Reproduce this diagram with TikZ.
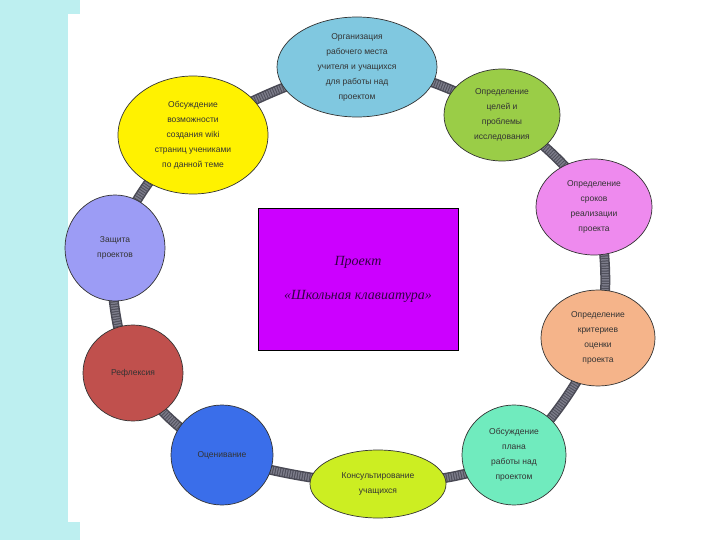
\documentclass[tikz,border=0pt]{standalone}
\usepackage{fontspec}
\setmainfont{Liberation Sans}
\newfontfamily\scriptfam{Liberation Serif}
\usetikzlibrary{shapes.geometric,backgrounds}
\definecolor{bgcyan}{HTML}{BDEFF0}
\definecolor{ringc}{HTML}{7A7A88}
\definecolor{ringe}{HTML}{4A4A55}
\definecolor{cTop}{HTML}{80C8E0}
\definecolor{cYel}{HTML}{FFF200}
\definecolor{cGrn}{HTML}{9ACD47}
\definecolor{cPnk}{HTML}{EE8AEE}
\definecolor{cOrg}{HTML}{F5B48A}
\definecolor{cMnt}{HTML}{70EBBE}
\definecolor{cCon}{HTML}{CCEE22}
\definecolor{cBlu}{HTML}{3A6EEA}
\definecolor{cRed}{HTML}{C0504D}
\definecolor{cLav}{HTML}{9C9CF5}
\definecolor{cMag}{HTML}{CC00FF}
\definecolor{cTxt}{HTML}{330044}
\tikzset{
  stage/.style={ellipse, draw=black!80, line width=0.7pt, align=center,
    font=\fontsize{8.5}{15}\selectfont, text=black!80, inner sep=0pt},
  ringouter/.style={line width=10pt, ringe},
  ringinner/.style={line width=7pt, ringc, dash pattern=on 1.5pt off 1pt},
}
\begin{document}
\begin{tikzpicture}[x=1pt,y=-1pt]
\useasboundingbox (0,0) rectangle (720,540);

\node[stage, fill=cTop, minimum width=160, minimum height=100] (n1) at (357,67)
  {Организация\\рабочего места\\учителя и учащихся\\для работы над\\проектом};
\node[stage, fill=cGrn, minimum width=116, minimum height=92] (n2) at (502,115)
  {Определение\\целей и\\проблемы\\исследования};
\node[stage, fill=cPnk, minimum width=116, minimum height=96] (n3) at (594,207)
  {Определение\\сроков\\реализации\\проекта};
\node[stage, fill=cOrg, minimum width=114, minimum height=96] (n4) at (598,338)
  {Определение\\критериев\\оценки\\проекта};
\node[stage, fill=cMnt, minimum width=104, minimum height=100] (n5) at (514,455)
  {Обсуждение\\плана\\работы над\\проектом};
\node[stage, fill=cCon, minimum width=136, minimum height=68] (n6) at (378,484)
  {Консультирование\\учащихся};
\node[stage, fill=cBlu, minimum width=102, minimum height=100] (n7) at (222,455)
  {Оценивание};
\node[stage, fill=cRed, minimum width=100, minimum height=96] (n8) at (133,373)
  {Рефлексия};
\node[stage, fill=cLav, minimum width=100, minimum height=106] (n9) at (115,248)
  {Защита\\проектов};
\node[stage, fill=cYel, minimum width=150, minimum height=118] (n10) at (193,135)
  {Обсуждение\\возможности\\создания wiki\\страниц учениками\\по данной теме};

\node[draw=black, line width=0.8pt, fill=cMag, minimum width=200, minimum height=142,
  text=cTxt, align=center, font=\scriptfam\itshape\fontsize{14}{34}\selectfont] (c) at (358,279)
  {Проект\\«Школьная клавиатура»};

\begin{scope}[on background layer]
\fill[bgcyan] (0,0) rectangle (68,540);
\fill[bgcyan] (68,0) rectangle (80,14);
\fill[bgcyan] (68,522) rectangle (80,540);
\draw[ringouter] plot[smooth cycle] coordinates {(n1) (n2) (n3) (n4) (n5) (n6) (n7) (n8) (n9) (n10)};
\draw[ringinner] plot[smooth cycle] coordinates {(n1) (n2) (n3) (n4) (n5) (n6) (n7) (n8) (n9) (n10)};
\end{scope}
\end{tikzpicture}
\end{document}
